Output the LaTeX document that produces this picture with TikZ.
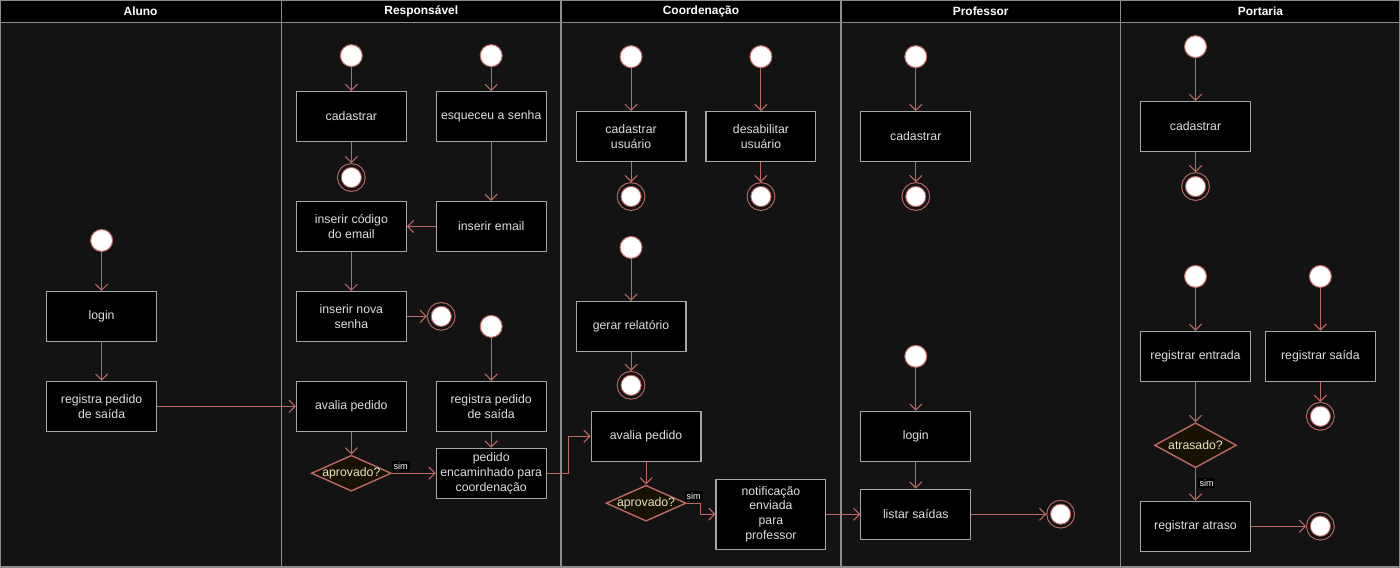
\documentclass[tikz,border=0pt]{standalone}
\usepackage{fontspec}
\setmainfont{Liberation Sans}
\usetikzlibrary{arrows.meta}
\usetikzlibrary{shapes.geometric}
\definecolor{fundo}{RGB}{19,19,19}
\definecolor{linha}{RGB}{190,104,100}
\definecolor{borda}{RGB}{165,165,165}
\definecolor{texto}{RGB}{222,222,222}
\definecolor{raia}{RGB}{140,140,140}
\definecolor{losango}{RGB}{24,18,4}
\definecolor{pergunta}{RGB}{232,228,190}

\begin{document}
\begin{tikzpicture}[x=0.02cm,y=-0.02cm,
  seta/.style={draw=linha,line width=0.6pt,-{Straight Barb[length=3.5pt,width=7pt]}},
  caixa/.style={draw=borda,fill=black,text=texto,line width=0.6pt,minimum width=2.2cm,minimum height=1cm,align=center,inner sep=1pt,font=\fontsize{7}{8.4}\selectfont},
  inicio/.style={circle,draw=linha,fill=white,line width=0.6pt,minimum size=0.44cm,inner sep=0pt},
  fim/.style={circle,draw=linha,fill=white,line width=0.6pt,double=fundo,double distance=1.5pt,minimum size=0.48cm,inner sep=0pt,outer sep=1.3pt},
  decisao/.style={diamond,aspect=2.3,draw=linha,fill=losango,text=pergunta,line width=0.8pt,minimum width=1.6cm,minimum height=0.72cm,inner sep=-0.5pt,font=\fontsize{7}{8}\selectfont},
  rotulo/.style={fill=black,text=white,inner sep=1pt,font=\fontsize{5.2}{6}\selectfont},
  titulo/.style={text=white,font=\bfseries\fontsize{6.8}{8}\selectfont}]
% Raias
\fill[fundo] (0,0) rectangle (1400,567);
\fill[black] (0,0) rectangle (1400,22);
\draw[raia,line width=0.8pt] (0,0) rectangle (1400,567);
\draw[raia,line width=0.8pt] (0,22) -- (1400,22);
\draw[raia,line width=0.8pt] (281,0) -- (281,567);
\draw[raia,line width=0.8pt] (561,0) -- (561,567);
\draw[raia,line width=0.8pt] (841,0) -- (841,567);
\draw[raia,line width=0.8pt] (1121,0) -- (1121,567);
\node[titulo] (h1) at (140,11) {Aluno};
\node[titulo] (h2) at (421,11) {Responsável};
\node[titulo] (h3) at (701,11) {Coordenação};
\node[titulo] (h4) at (981,11) {Professor};
\node[titulo] (h5) at (1261,11) {Portaria};

% Aluno
\node[inicio] (a0) at (101,240) {};
\node[caixa] (a1) at (101,316) {login};
\node[caixa] (a2) at (101,406) {registra pedido\\de saída};

% Responsável
\node[inicio] (r0) at (351,55) {};
\node[caixa] (r1) at (351,116) {cadastrar};
\node[fim] (r2) at (351,177) {};
\node[inicio] (r3) at (491,55) {};
\node[caixa] (r4) at (491,116) {esqueceu a senha};
\node[caixa] (r5) at (491,226) {inserir email};
\node[caixa] (r6) at (351,226) {inserir código\\do email};
\node[caixa] (r7) at (351,316) {inserir nova\\senha};
\node[fim] (r8) at (441,316) {};
\node[inicio] (r9) at (491,326) {};
\node[caixa] (r10) at (491,406) {registra pedido\\de saída};
\node[caixa] (r11) at (351,406) {avalia pedido};
\node[decisao] (r12) at (351,473) {aprovado?};
\node[caixa] (r13) at (491,473) {pedido\\encaminhado para\\coordenação};

% Coordenação
\node[inicio] (c0) at (631,56) {};
\node[caixa] (c1) at (631,136) {cadastrar\\usuário};
\node[fim] (c2) at (631,196) {};
\node[inicio] (c3) at (761,56) {};
\node[caixa] (c4) at (761,136) {desabilitar\\usuário};
\node[fim] (c5) at (761,196) {};
\node[inicio] (c6) at (631,247) {};
\node[caixa] (c7) at (631,326) {gerar relatório};
\node[fim] (c8) at (631,385) {};
\node[caixa] (c9) at (646,436) {avalia pedido};
\node[decisao] (c10) at (646,503) {aprovado?};
\node[caixa,minimum height=1.4cm] (c11) at (771,514) {notificação\\enviada\\para\\professor};

% Professor
\node[inicio] (p0) at (916,56) {};
\node[caixa] (p1) at (916,136) {cadastrar};
\node[fim] (p2) at (916,196) {};
\node[inicio] (p3) at (916,356) {};
\node[caixa] (p4) at (916,436) {login};
\node[caixa] (p5) at (916,514) {listar saídas};
\node[fim] (p6) at (1061,514) {};

% Portaria
\node[inicio] (t0) at (1196,46) {};
\node[caixa] (t1) at (1196,126) {cadastrar};
\node[fim] (t2) at (1196,186) {};
\node[inicio] (t3) at (1196,276) {};
\node[caixa] (t4) at (1196,356) {registrar entrada};
\node[decisao,aspect=1.8,minimum width=1.64cm,minimum height=0.9cm] (t5) at (1196,445) {atrasado?};
\node[caixa] (t6) at (1196,526) {registrar atraso};
\node[fim] (t7) at (1321,526) {};
\node[inicio] (t8) at (1321,276) {};
\node[caixa] (t9) at (1321,356) {registrar saída};
\node[fim] (t10) at (1321,416) {};

% Flechas
\draw[seta] (a0) -- (a1);
\draw[seta] (a1) -- (a2);
\draw[seta] (a2) -- (r11);
\draw[seta] (r0) -- (r1);
\draw[seta] (r1) -- (r2);
\draw[seta] (r3) -- (r4);
\draw[seta] (r4) -- (r5);
\draw[seta] (r5) -- (r6);
\draw[seta] (r6) -- (r7);
\draw[seta] (r7) -- (r8);
\draw[seta] (r9) -- (r10);
\draw[seta] (r10) -- (r13);
\draw[seta] (r11) -- (r12);
\draw[seta] (r12) -- node[rotulo,pos=0.2,above=1pt] (s1) {sim} (r13);
\draw[seta] (r13.east) -- ++(22,0) |- (c9.west);
\draw[seta] (c0) -- (c1);
\draw[seta] (c1) -- (c2);
\draw[seta] (c3) -- (c4);
\draw[seta] (c4) -- (c5);
\draw[seta] (c6) -- (c7);
\draw[seta] (c7) -- (c8);
\draw[seta] (c9) -- (c10);
\draw[seta] (c10.east) -- node[rotulo,pos=0.5,above=1pt] (s2) {sim} ++(14,0) |- (c11.west);
\draw[seta] (c11) -- (p5);
\draw[seta] (p0) -- (p1);
\draw[seta] (p1) -- (p2);
\draw[seta] (p3) -- (p4);
\draw[seta] (p4) -- (p5);
\draw[seta] (p5) -- (p6);
\draw[seta] (t0) -- (t1);
\draw[seta] (t1) -- (t2);
\draw[seta] (t3) -- (t4);
\draw[seta] (t4) -- (t5);
\draw[seta] (t5) -- node[rotulo,pos=0.45,right=1pt] (s3) {sim} (t6);
\draw[seta] (t6) -- (t7);
\draw[seta] (t8) -- (t9);
\draw[seta] (t9) -- (t10);
\end{tikzpicture}
\end{document}
